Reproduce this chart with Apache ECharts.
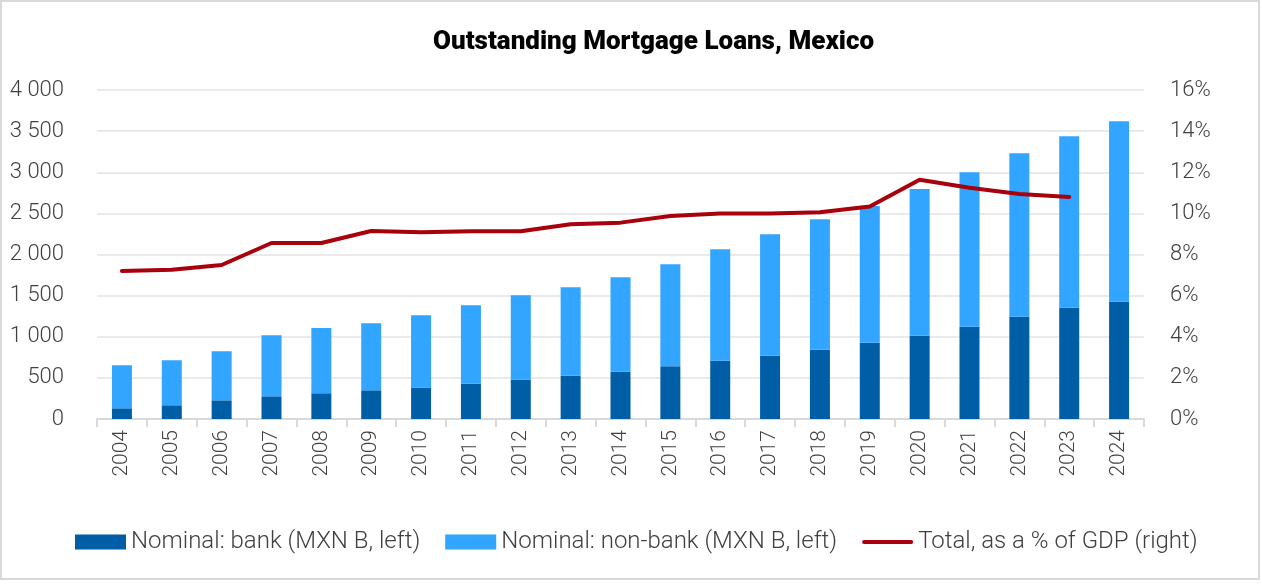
<!DOCTYPE html>
<html>
<head>
<meta charset="utf-8">
<script src="https://cdn.jsdelivr.net/npm/echarts@6/dist/echarts.min.js"></script>
<style>
  html, body { margin: 0; padding: 0; background: #fff; }
  #frame { position: absolute; left: 0; top: 0; width: 1260px; height: 580px; border: 2px solid #d9d9d9; box-sizing: border-box; }
  #chart { position: absolute; left: 0; top: 0; width: 1262px; height: 585px; }
</style>
</head>
<body>
<div id="frame"></div>
<div id="chart"></div>
<script>
// years on the x axis
const years = ['2004','2005','2006','2007','2008','2009','2010','2011','2012','2013','2014',
  '2015','2016','2017','2018','2019','2020','2021','2022','2023','2024']

// MXN billions, stacked
const bankLoans = [130, 167, 227, 276, 313, 349, 381, 429, 478, 527, 575,
  640, 709, 770, 843, 928, 1013, 1122, 1244, 1354, 1427]
const nonBankLoans = [523, 547, 596, 742, 794, 815, 880, 953, 1026, 1074, 1148,
  1241, 1354, 1476, 1585, 1662, 1784, 1878, 1987, 2083, 2193]

// total as % of GDP (right axis), no value for 2024
const pctGdp = [7.20, 7.26, 7.49, 8.56, 8.56, 9.14, 9.08, 9.13, 9.13, 9.47, 9.55,
  9.87, 9.99, 9.99, 10.05, 10.33, 11.64, 11.25, 10.94, 10.80, null]

const leftTicks = [0, 500, 1000, 1500, 2000, 2500, 3000, 3500, 4000]
const rightTicks = [0, 2, 4, 6, 8, 10, 12, 14, 16]

const font = 'Roboto, "Liberation Sans", sans-serif'
const textColor = '#404040'

const fmtThousands = v => {
  const s = String(v)
  return s.length > 3 ? s.slice(0, s.length - 3) + ' ' + s.slice(-3) : s
}

const chart = echarts.init(document.getElementById('chart'), null, { renderer: 'canvas' })

const option = {
  animation: false,
  title: {
    text: 'Outstanding Mortgage Loans, Mexico',
    left: 428,
    top: 24,
    textStyle: { fontFamily: font, fontWeight: 900, fontSize: 26, color: '#000' }
  },
  grid: { left: 97, right: 118, top: 90, bottom: 166, containLabel: false },
  legend: {
    bottom: 26,
    left: 70,
    itemGap: 25,
    itemWidth: 51,
    itemHeight: 15,
    textStyle: { fontFamily: font, fontWeight: 300, fontSize: 24, color: textColor },
    data: [
      { name: 'Nominal: bank (MXN B, left)', icon: 'rect' },
      { name: 'Nominal: non-bank (MXN B, left)', icon: 'rect' },
      { name: 'Total, as a % of GDP (right)', icon: 'path://M2,0H52A2,2 0 0 1 52,4H2A2,2 0 0 1 2,0Z' }
    ]
  },
  xAxis: {
    type: 'category',
    data: years,
    axisLine: { lineStyle: { color: '#d9d9d9', width: 2 } },
    axisTick: { show: true, length: 8, interval: 0, lineStyle: { color: '#d9d9d9', width: 2 } },
    axisLabel: {
      interval: 0, rotate: 90, margin: 11,
      fontFamily: font, fontWeight: 300, fontSize: 21, color: textColor
    }
  },
  yAxis: [
    {
      type: 'value',
      min: leftTicks[0],
      max: leftTicks[leftTicks.length - 1],
      interval: leftTicks[1] - leftTicks[0],
      axisLine: { show: false },
      axisTick: { show: false },
      splitLine: { lineStyle: { color: '#e3e3e3', width: 1.5 } },
      axisLabel: {
        margin: 33,
        fontFamily: font, fontWeight: 300, fontSize: 22, color: textColor,
        formatter: fmtThousands
      }
    },
    {
      type: 'value',
      min: rightTicks[0],
      max: rightTicks[rightTicks.length - 1],
      interval: rightTicks[1] - rightTicks[0],
      axisLine: { show: false },
      axisTick: { show: false },
      splitLine: { show: false },
      axisLabel: {
        margin: 26,
        fontFamily: font, fontWeight: 300, fontSize: 22, color: textColor,
        formatter: '{value}%'
      }
    }
  ],
  series: [
    {
      name: 'Nominal: bank (MXN B, left)',
      type: 'bar',
      stack: 'loans',
      barWidth: 20,
      itemStyle: { color: '#005ea6' },
      data: bankLoans
    },
    {
      name: 'Nominal: non-bank (MXN B, left)',
      type: 'bar',
      stack: 'loans',
      barWidth: 20,
      itemStyle: { color: '#31a5ff' },
      data: nonBankLoans
    },
    {
      name: 'Total, as a % of GDP (right)',
      type: 'line',
      yAxisIndex: 1,
      symbol: 'none',
      showSymbol: false,
      lineStyle: { color: '#a8000c', width: 4, cap: 'round', join: 'round' },
      itemStyle: { color: '#a8000c' },
      data: pctGdp
    }
  ]
}

chart.setOption(option)
</script>
</body>
</html>
